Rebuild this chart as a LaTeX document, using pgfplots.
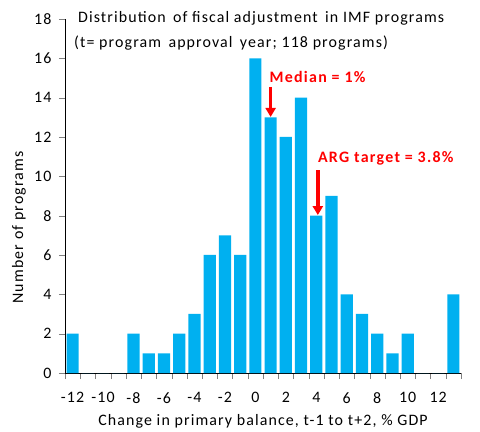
\documentclass[border=0pt]{standalone}
\usepackage{pgfplots}
\pgfplotsset{compat=1.18}
\usepackage{fontspec}
\setmainfont{Carlito}
\usetikzlibrary{arrows.meta}
\definecolor{barblue}{HTML}{00B0F0}
\definecolor{annred}{HTML}{FF0000}
\newcommand\txtfont{\fontsize{16}{18}\selectfont\addfontfeatures{LetterSpace=7}}
\newcommand\annfont{\bfseries\fontsize{16}{18}\selectfont\addfontfeatures{LetterSpace=8}}

\begin{document}
\begin{tikzpicture}
\useasboundingbox (0,0) rectangle (480bp,432bp);
\begin{axis}[
    at={(65bp,59bp)}, anchor=south west,
    scale only axis, width=396bp, height=354bp,
    xmin=-12.5, xmax=13.5, ymin=0, ymax=18,
    axis x line*=bottom, axis y line*=left,
    clip=false,
    tick align=outside,
    major tick length=6bp,
    xtick={-12.5,-11.5,...,13.5},
    xticklabels={-12,{},-10,{},-8,{},-6,{},-4,{},-2,{},0,{},2,{},4,{},6,{},8,{},10,{},12,{},{}},
    xticklabel style={xshift=7.6bp, yshift=-10bp},
    ytick={0,2,...,18},
    yticklabel style={xshift=-4bp},
    tick label style={font=\txtfont},
    /pgf/number format/assume math mode=true,
    xlabel={Change in primary balance, t-1 to t+2, \% GDP},
    ylabel={Number of programs},
    label style={font=\txtfont},
    xlabel style={at={(axis description cs:0.5,-0.136)}, anchor=center},
    ylabel style={at={(axis description cs:-0.116,0.411)}, anchor=center},
    ]
    \addplot[ybar, bar width=12.2bp, fill=barblue, draw=none] coordinates {
        (-12,2) (-11,0) (-10,0) (-9,0) (-8,2) (-7,1) (-6,1) (-5,2)
        (-4,3) (-3,6) (-2,7) (-1,6) (0,16) (1,13) (2,12) (3,14)
        (4,8) (5,9) (6,4) (7,3) (8,2) (9,1) (10,2) (11,0) (12,0) (13,4)
    };
    % title lines
    \node[anchor=west, inner sep=0pt, font=\txtfont]
        at (axis cs:-11.65,18.05) {Distribution\, of fiscal adjustment\, in IMF programs};
    \node[anchor=west, inner sep=0pt, font=\txtfont]
        at (axis cs:-11.91,16.78) {(t= program\, approval\, year; 118 programs)};
    % annotations
    \node[anchor=west, inner sep=0pt, text=annred, font=\annfont]
        at (axis cs:0.92,15.05) {Median = 1\%};
    \draw[annred, line width=3.5bp, -{Triangle[length=9bp,width=10bp]}]
        (axis cs:1,14.55) -- (axis cs:1,13.02);
    \node[anchor=west, inner sep=0pt, text=annred, font=\annfont]
        at (axis cs:4.1,10.93) {ARG target = 3.8\%};
    \draw[annred, line width=3.5bp, -{Triangle[length=9bp,width=10bp]}]
        (axis cs:4.1,10.32) -- (axis cs:4.1,8.03);
\end{axis}
\end{tikzpicture}
\end{document}
